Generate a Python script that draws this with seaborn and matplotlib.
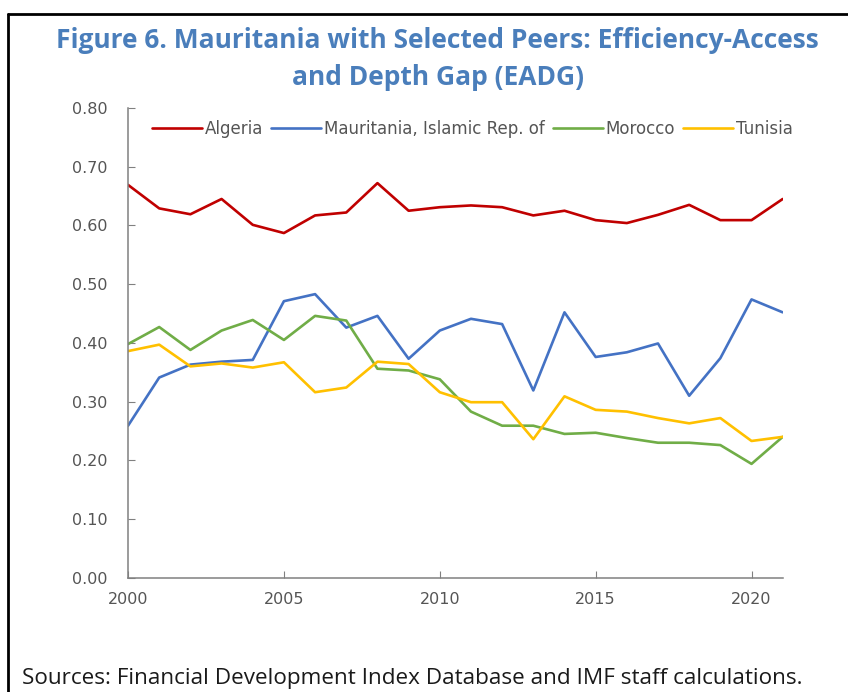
import numpy as np
import pandas as pd
import matplotlib
matplotlib.use("Agg")
import matplotlib.pyplot as plt
import seaborn as sns

# data
years = list(range(2000, 2022))
countries = ["Algeria", "Mauritania, Islamic Rep. of", "Morocco", "Tunisia"]
algeria = [0.669, 0.629, 0.619, 0.645, 0.601, 0.587, 0.617, 0.622, 0.672, 0.625, 0.631,
           0.634, 0.631, 0.617, 0.625, 0.609, 0.604, 0.618, 0.635, 0.609, 0.609, 0.645]
mauritania = [0.259, 0.341, 0.363, 0.368, 0.371, 0.471, 0.483, 0.426, 0.446, 0.373, 0.421,
              0.441, 0.432, 0.319, 0.452, 0.376, 0.384, 0.399, 0.310, 0.374, 0.474, 0.452]
morocco = [0.398, 0.427, 0.388, 0.421, 0.439, 0.405, 0.446, 0.438, 0.356, 0.353, 0.338,
           0.283, 0.259, 0.259, 0.245, 0.247, 0.238, 0.230, 0.230, 0.226, 0.194, 0.240]
tunisia = [0.386, 0.397, 0.360, 0.365, 0.358, 0.367, 0.316, 0.324, 0.368, 0.364, 0.316,
           0.299, 0.299, 0.236, 0.309, 0.286, 0.283, 0.272, 0.263, 0.272, 0.233, 0.240]
colors = ["#c00000", "#4472c4", "#70ad47", "#ffc000"]

title = "Figure 6. Mauritania with Selected Peers: Efficiency-Access\nand Depth Gap (EADG)"
source = "Sources: Financial Development Index Database and IMF staff calculations."

df = pd.DataFrame({"year": years * 4,
                   "country": np.repeat(countries, len(years)),
                   "value": algeria + mauritania + morocco + tunisia})

sns.set_style("ticks")
plt.rcParams["font.family"] = ["DejaVu Sans"]

fig = plt.figure(figsize=(8.48, 6.92), dpi=100)
ax = fig.add_axes([0.151, 0.165, 0.772, 0.679])

sns.lineplot(data=df, x="year", y="value", hue="country", hue_order=countries,
             palette=dict(zip(countries, colors)), linewidth=1.9, ax=ax)

ax.set_xlim(2000, 2021)
ax.set_ylim(0, 0.8)
ax.set_xticks([2000, 2005, 2010, 2015, 2020])
ax.set_yticks(np.arange(0, 0.81, 0.1))
ax.yaxis.set_major_formatter(matplotlib.ticker.FormatStrFormatter("%.2f"))
ax.set_xlabel("")
ax.set_ylabel("")
sns.despine(ax=ax)
for s in ["left", "bottom"]:
    ax.spines[s].set_color("#808080")
    ax.spines[s].set_linewidth(1.1)
ax.tick_params(axis="y", direction="in", length=5, color="#808080", pad=15,
               labelsize=11.5, labelcolor="#555555")
ax.tick_params(axis="x", direction="in", length=5, color="#808080", pad=10,
               labelsize=11.5, labelcolor="#555555")

ax.legend(loc="center", bbox_to_anchor=(0.526, 0.955), ncol=4, frameon=False,
          fontsize=12, handlelength=3.0, handletextpad=0.2, columnspacing=0.45,
          labelcolor="#555555")

fig.text(0.516, 0.915, title, ha="center", va="center", fontsize=19,
         fontweight="bold", color="#4a7ebb", family="Open Sans", linespacing=1.45)
fig.text(0.026, 0.02, source, ha="left", va="center", fontsize=16.2,
         color="#1a1a1a", family="Open Sans")

# frame around the figure (top and left edges)
fig.add_artist(plt.Line2D([0.009, 1.0], [0.98, 0.98], color="black", lw=2,
                          transform=fig.transFigure))
fig.add_artist(plt.Line2D([0.009, 0.009], [0.0, 0.98], color="black", lw=2,
                          transform=fig.transFigure))

fig.savefig("out.png", dpi=100)
